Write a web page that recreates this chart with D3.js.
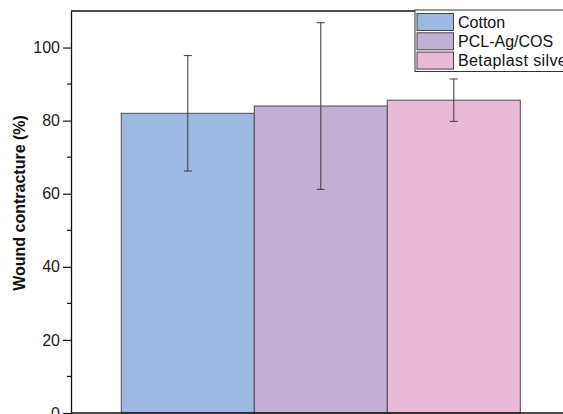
<!DOCTYPE html>
<html>
<head>
<meta charset="utf-8">
<script src="https://cdn.jsdelivr.net/npm/d3@7/dist/d3.min.js"></script>
<style>
  html, body { margin: 0; padding: 0; background: #fff; overflow: hidden; }
  svg { display: block; }
  text { font-family: "Liberation Sans", Arial, sans-serif; }
</style>
</head>
<body>
<script>
// Wound contracture by dressing type (mean ± SD)
const categories = ["Cotton", "PCL-Ag/COS", "Betaplast silver"];
const meanValues = [82.0, 84.0, 85.6];
const sdValues = [15.8, 22.8, 5.8];
const barColors = ["#9db9e1", "#c2b0d5", "#e9bad6"];
const majorTicks = [0, 20, 40, 60, 80, 100];
const minorTicks = [10, 30, 50, 70, 90];
const yTitle = "Wound contracture (%)";

const W = 563, H = 414;
const axisX = 71, plotTop = 11, plotBottom = 413;

const svg = d3.select("body").append("svg")
  .attr("width", W).attr("height", H);

const y = d3.scaleLinear().domain([0, 110]).range([plotBottom, plotTop]);
const x = d3.scaleBand().domain(categories).range([121.3, 520.3]).paddingInner(0).paddingOuter(0);

// bars
svg.append("g").selectAll("rect")
  .data(categories)
  .join("rect")
  .attr("x", d => x(d))
  .attr("y", (d, i) => y(meanValues[i]))
  .attr("width", x.bandwidth())
  .attr("height", (d, i) => y(0) - y(meanValues[i]))
  .attr("fill", (d, i) => barColors[i])
  .attr("stroke", "#4a4a55")
  .attr("stroke-width", 1);

// error bars
const capHalf = 4;
const eb = svg.append("g").attr("stroke", "#3a3a3a").attr("stroke-width", 1).attr("fill", "none");
categories.forEach((c, i) => {
  const cx = x(c) + x.bandwidth() / 2;
  const hi = y(meanValues[i] + sdValues[i]);
  const lo = y(meanValues[i] - sdValues[i]);
  eb.append("line").attr("x1", cx).attr("x2", cx).attr("y1", hi).attr("y2", lo);
  eb.append("line").attr("x1", cx - capHalf).attr("x2", cx + capHalf).attr("y1", hi).attr("y2", hi);
  eb.append("line").attr("x1", cx - capHalf).attr("x2", cx + capHalf).attr("y1", lo).attr("y2", lo);
});

// frame: top and bottom lines
svg.append("line").attr("x1", axisX).attr("x2", W + 10)
  .attr("y1", plotTop).attr("y2", plotTop)
  .attr("stroke", "#111").attr("stroke-width", 1.3);
svg.append("line").attr("x1", axisX).attr("x2", W + 10)
  .attr("y1", plotBottom).attr("y2", plotBottom)
  .attr("stroke", "#111").attr("stroke-width", 1.3);

// y axis with major ticks
const yAxis = d3.axisLeft(y).tickValues(majorTicks).tickSize(8).tickPadding(3).tickSizeOuter(0);
const gy = svg.append("g").attr("transform", `translate(${axisX},0)`).call(yAxis);
gy.select(".domain").attr("stroke", "#111").attr("stroke-width", 1.3);
gy.selectAll(".tick line").attr("stroke", "#111").attr("stroke-width", 1.2);
gy.selectAll(".tick text")
  .attr("font-size", 16)
  .attr("font-family", "'Liberation Sans', Arial, sans-serif")
  .attr("fill", "#1a1a1a");

// minor ticks
svg.append("g").selectAll("line")
  .data(minorTicks)
  .join("line")
  .attr("x1", axisX - 4).attr("x2", axisX)
  .attr("y1", d => y(d)).attr("y2", d => y(d))
  .attr("stroke", "#111").attr("stroke-width", 1.2);

// y axis title
svg.append("text")
  .attr("transform", `translate(24.5,203) rotate(-90)`)
  .attr("text-anchor", "middle")
  .attr("font-size", 16)
  .attr("font-weight", "bold")
  .attr("fill", "#111")
  .text(yTitle);

// legend
const lg = svg.append("g");
const lgX = 415, lgY = 10, rowH = 19.3;
lg.append("rect")
  .attr("x", lgX).attr("y", lgY)
  .attr("width", 200).attr("height", 61.5)
  .attr("fill", "#fff").attr("stroke", "#333").attr("stroke-width", 1);
categories.forEach((c, i) => {
  lg.append("rect")
    .attr("x", lgX + 2).attr("y", lgY + 3.5 + i * rowH)
    .attr("width", 36.5).attr("height", 17)
    .attr("fill", barColors[i]).attr("stroke", "#444").attr("stroke-width", 1);
  lg.append("text")
    .attr("x", lgX + 43).attr("y", lgY + 12 + i * rowH)
    .attr("dy", "0.35em")
    .attr("font-size", 16)
    .attr("letter-spacing", i === 2 ? 0.4 : 0)
    .attr("fill", "#111")
    .text(c);
});
</script>
</body>
</html>
